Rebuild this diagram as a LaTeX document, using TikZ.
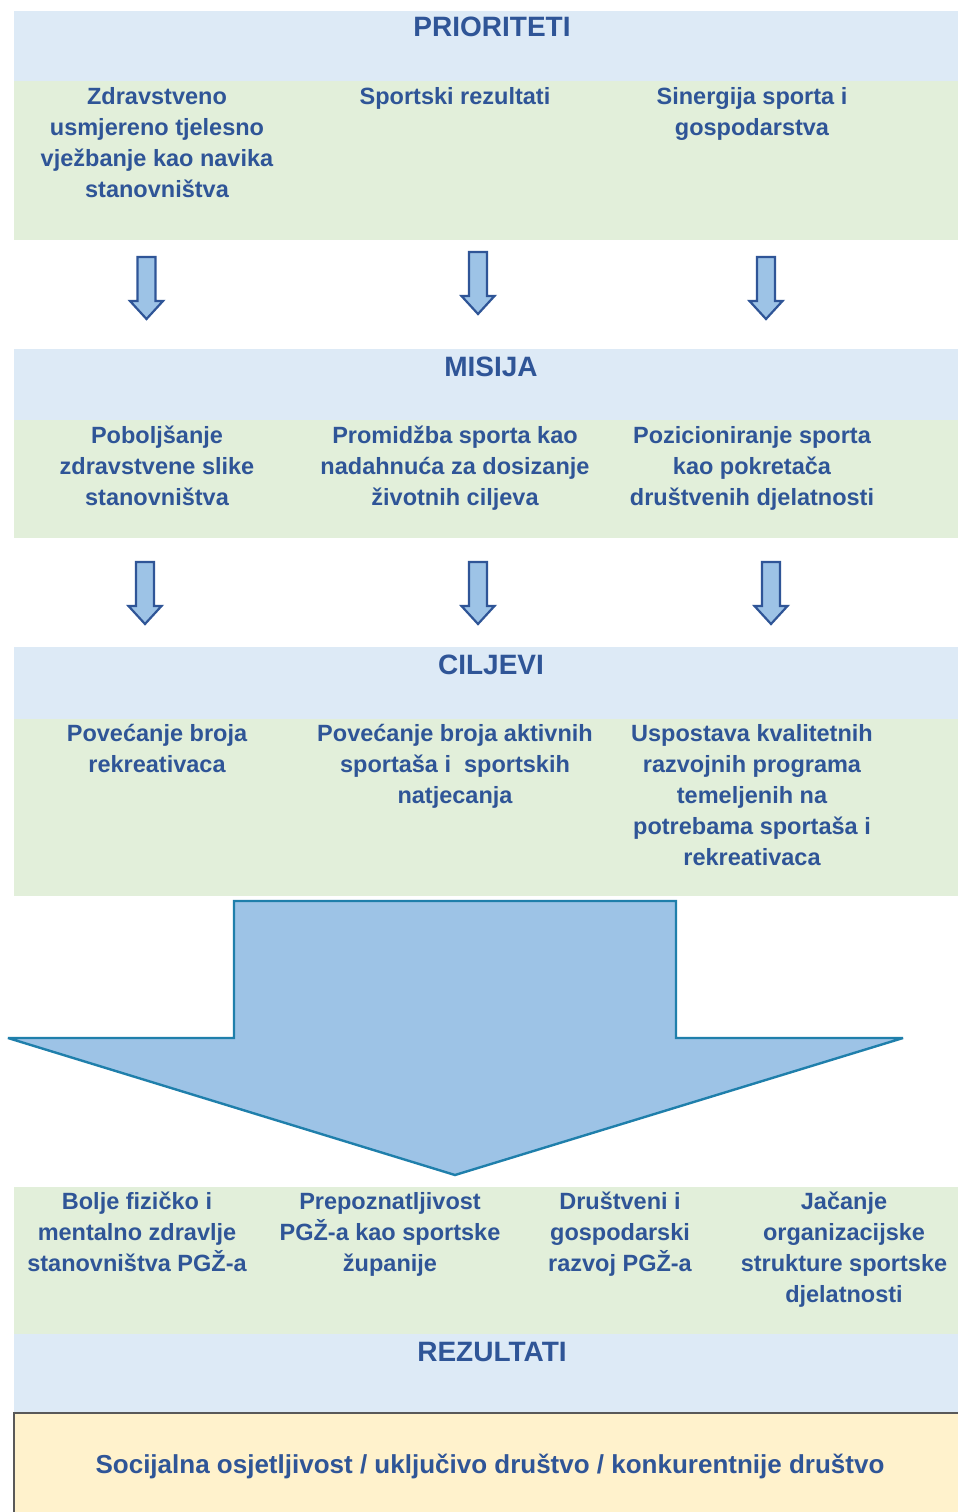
\documentclass[tikz,border=0pt]{standalone}
\usepackage{fontspec}
\setmainfont{Liberation Sans}
\definecolor{hdr}{HTML}{DDEAF6}
\definecolor{grn}{HTML}{E2EFDA}
\definecolor{ylw}{HTML}{FFF2CC}
\definecolor{tc}{HTML}{2F5597}
\definecolor{afill}{HTML}{9DC3E6}
\definecolor{bigedge}{HTML}{1F7FAB}
\definecolor{boxedge}{HTML}{595959}
\newcommand\smarr[2]{%
  \draw[sarrow] (#1-9,#2) -- (#1+9,#2) -- (#1+9,#2+44) -- (#1+16.5,#2+44) -- (#1,#2+62)
     -- (#1-16.5,#2+44) -- (#1-9,#2+44) -- cycle;}
\begin{document}
\begin{tikzpicture}[x=1pt,y=-1pt,
  bandbox/.style={inner sep=0pt, outer sep=0pt, anchor=north west, draw=none},
  txt/.style={text=tc, font=\bfseries\fontsize{23.5}{31}\selectfont, align=center, anchor=base, inner sep=0pt},
  ttl/.style={text=tc, font=\bfseries\fontsize{28}{34}\selectfont, anchor=base, inner sep=0pt},
  sarrow/.style={draw=tc, fill=afill, line width=2.2pt, line join=miter},
  bigarrow/.style={draw=bigedge, fill=afill, line width=2.4pt, line join=miter, miter limit=2}]
\useasboundingbox (0,0) rectangle (958,1512);
\clip (0,0) rectangle (958,1512);
\fill[white] (0,0) rectangle (958,1512);
% bands
\node[bandbox, fill=hdr, minimum width=944pt, minimum height=70pt] (h1) at (14,11) {};
\node[bandbox, fill=grn, minimum width=944pt, minimum height=159pt] (g1) at (14,81) {};
\node[bandbox, fill=hdr, minimum width=944pt, minimum height=71pt] (h2) at (14,349) {};
\node[bandbox, fill=grn, minimum width=944pt, minimum height=118pt] (g2) at (14,420) {};
\node[bandbox, fill=hdr, minimum width=944pt, minimum height=72pt] (h3) at (14,647) {};
\node[bandbox, fill=grn, minimum width=944pt, minimum height=177pt] (g3) at (14,719) {};
\node[bandbox, fill=grn, minimum width=944pt, minimum height=147pt] (g4) at (14,1187) {};
\node[bandbox, fill=hdr, minimum width=944pt, minimum height=79pt] (h4) at (14,1334) {};
\node[bandbox, fill=ylw, draw=boxedge, line width=1.5pt, minimum width=950pt, minimum height=110pt] (box) at (14,1413) {};
% titles
\node[ttl] (t1) at (492,37) {PRIORITETI};
\node[ttl] (t2) at (491,376) {MISIJA};
\node[ttl] (t3) at (491,674) {CILJEVI};
\node[ttl] (t4) at (492,1361) {REZULTATI};
% band 1
\node[txt] (p1) at (157,197.5) {Zdravstveno\\usmjereno tjelesno\\vježbanje kao navika\\stanovništva};
\node[txt] (p2) at (455,104.5) {Sportski rezultati};
\node[txt] (p3) at (752,135.5) {Sinergija sporta i\\gospodarstva};
% band 2
\node[txt] (m1) at (157,505.5) {Poboljšanje\\zdravstvene slike\\stanovništva};
\node[txt] (m2) at (455,505.5) {Promidžba sporta kao\\nadahnuća za dosizanje\\životnih ciljeva};
\node[txt] (m3) at (752,505.5) {Pozicioniranje sporta\\kao pokretača\\društvenih djelatnosti};
% band 3
\node[txt] (c1) at (157,772.5) {Povećanje broja\\rekreativaca};
\node[txt] (c2) at (455,803.5) {Povećanje broja aktivnih\\sportaša i\ \ sportskih\\natjecanja};
\node[txt] (c3) at (752,865.5) {Uspostava kvalitetnih\\razvojnih programa\\temeljenih na\\potrebama sportaša i\\rekreativaca};
% small arrows
\smarr{146.5}{257}
\smarr{478}{252}
\smarr{766}{257}
\smarr{145}{562}
\smarr{478}{562}
\smarr{771}{562}
% big arrow
\draw[bigarrow] (234,901) -- (676,901) -- (676,1038) -- (903,1038) -- (455,1175)
   -- (8,1038) -- (234,1038) -- cycle;
% band 4
\node[txt] (r1) at (137,1271.5) {Bolje fizičko i\\mentalno zdravlje\\stanovništva PGŽ-a};
\node[txt] (r2) at (390,1271.5) {Prepoznatljivost\\PGŽ-a kao sportske\\županije};
\node[txt] (r3) at (620,1271.5) {Društveni i\\gospodarski\\razvoj PGŽ-a};
\node[txt] (r4) at (844,1302.5) {Jačanje\\organizacijske\\strukture sportske\\djelatnosti};
% bottom
\node[txt, font=\bfseries\fontsize{26}{31}\selectfont] (s) at (490,1473) {Socijalna osjetljivost / uključivo društvo / konkurentnije društvo};
\end{tikzpicture}
\end{document}
